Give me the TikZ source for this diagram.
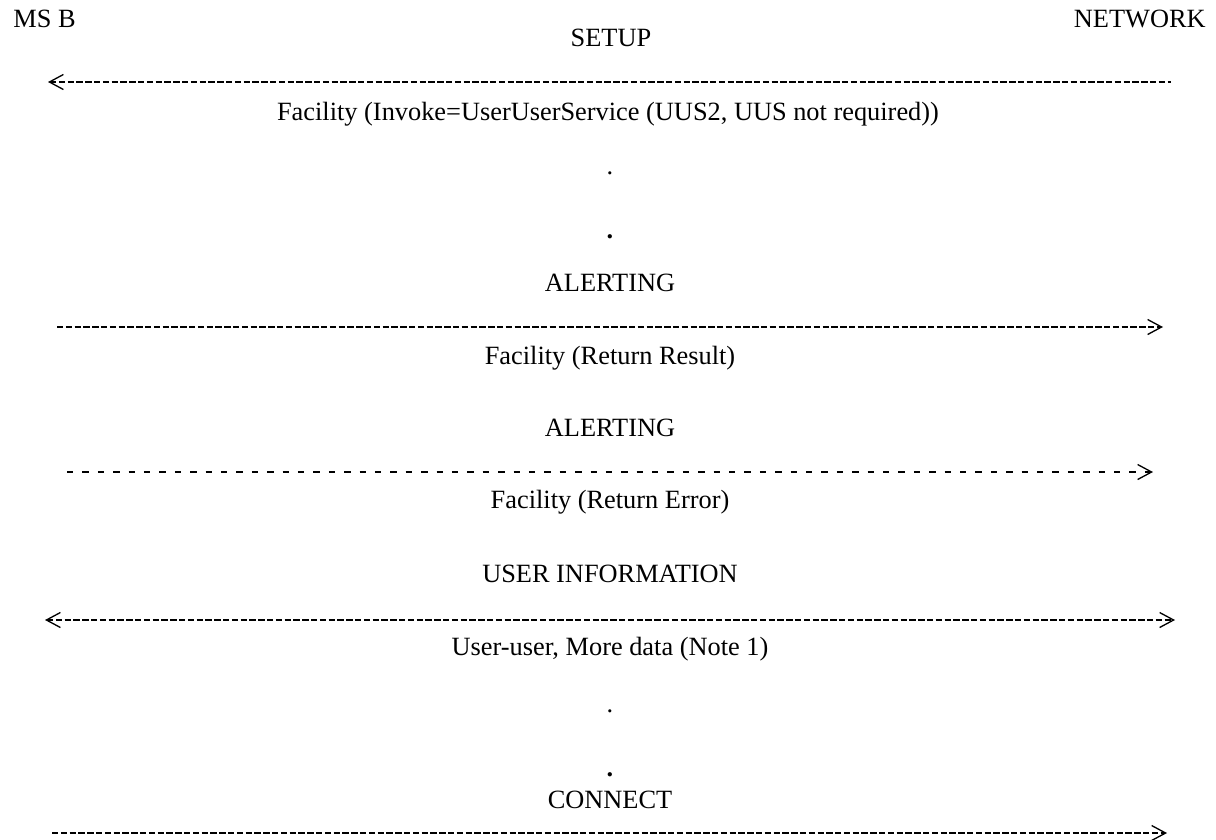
\documentclass[tikz,border=0pt]{standalone}
\usepackage{fontspec}
\setmainfont{Liberation Serif}
\usetikzlibrary{arrows.meta}

\begin{document}
\begin{tikzpicture}[x=0.02cm,y=-0.02cm,
    lbl/.style={font=\fontsize{15}{18}\selectfont,anchor=base,inner sep=0pt},
    msg/.style={line width=1.3pt,dash pattern=on 0.128cm off 0.048cm},
    sparse/.style={line width=1.3pt,dash pattern=on 0.128cm off 0.18cm},
    chev/.tip={Straight Barb[length=0.28cm,width=0.3cm,line width=0.75pt] .}]
\useasboundingbox (0,0) rectangle (1216,839);

% === Ends ===
\node[lbl,anchor=base west] (msb) at (13,27) {MS B};
\node[lbl,anchor=base east] (net) at (1206,27) {NETWORK};

% === SETUP ===
\node[lbl] (setup) at (611,46) {SETUP};
\coordinate (setupL) at (48,82);
\coordinate (setupR) at (1171,82);
\draw[msg,chev-] (setupL) -- (setupR);
\node[lbl] (invoke) at (608,120) {Facility (Invoke=UserUserService (UUS2, UUS not required))};

\node[lbl] (dotA) at (610,174) {.};
\node[lbl] (dotB) at (610,238) {\textbf{.}};

% === ALERTING (result) ===
\node[lbl] (alertA) at (610,291) {ALERTING};
\coordinate (alertAL) at (57,327);
\coordinate (alertAR) at (1163,327);
\draw[msg,-chev] (alertAL) -- (alertAR);
\node[lbl] (result) at (610,364) {Facility (Return Result)};

% === ALERTING (error) ===
\node[lbl] (alertB) at (610,436) {ALERTING};
\coordinate (alertBL) at (67,472);
\coordinate (alertBR) at (1153,472);
\draw[sparse,-chev] (alertBL) -- (alertBR);
\node[lbl] (error) at (610,508) {Facility (Return Error)};

% === USER INFORMATION ===
\node[lbl] (uinfo) at (610,582) {USER INFORMATION};
\coordinate (uinfoL) at (45,620);
\coordinate (uinfoR) at (1175,620);
\draw[msg,chev-chev] (uinfoL) -- (uinfoR);
\node[lbl] (more) at (610,655) {User-user, More data (Note 1)};

\node[lbl] (dotC) at (610,712) {.};
\node[lbl] (dotD) at (610,776) {\textbf{.}};

% === CONNECT ===
\node[lbl] (conn) at (610,808) {CONNECT};
\coordinate (connL) at (52,833);
\coordinate (connR) at (1167,833);
\draw[msg,-chev] (connL) -- (connR);
\end{tikzpicture}
\end{document}
